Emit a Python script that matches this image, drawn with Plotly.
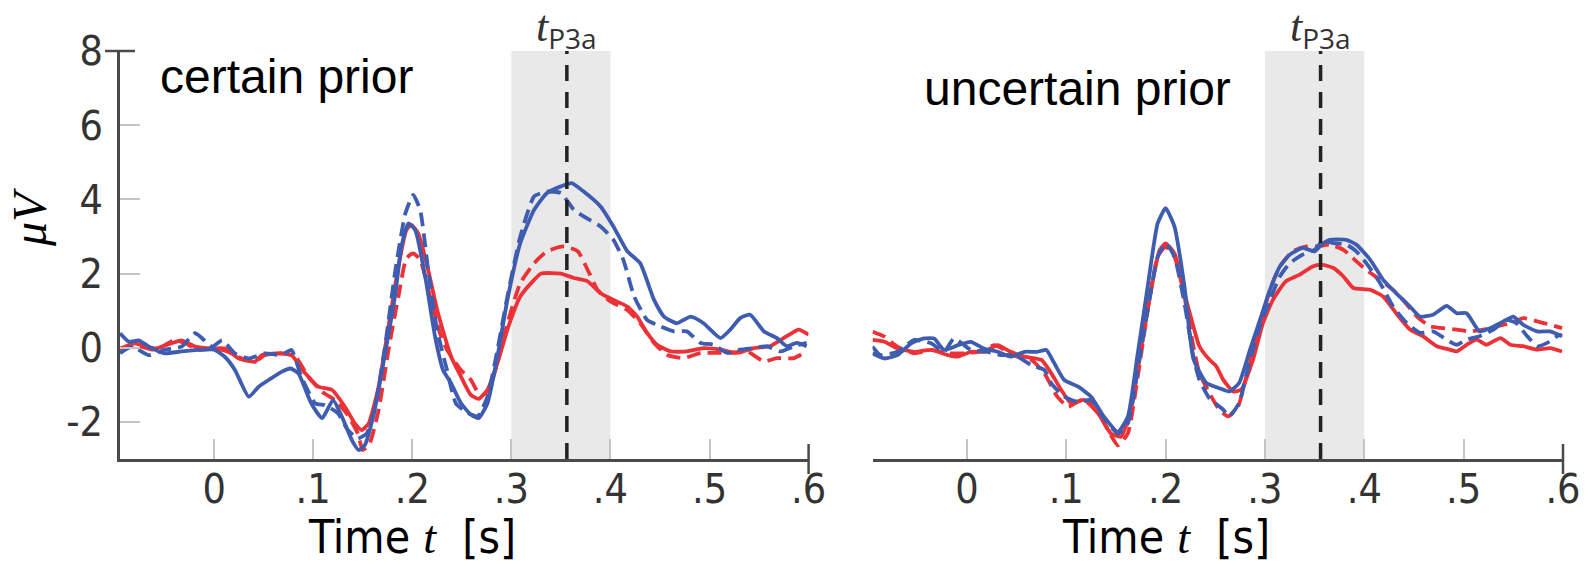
import plotly.graph_objects as go

# ---------------- data (t in s, amplitude in microvolts) ----------------
cert_blue_solid = [(-0.095,0.39),(-0.086,0.16),(-0.076,0.2),(-0.066,0.03),(-0.05,-0.15),(-0.033,-0.1),(-0.016,-0.06),(0.0,-0.05),(0.011,-0.25),(0.021,-0.6),(0.035,-1.32),(0.045,-1.05),(0.055,-0.87),(0.068,-0.65),(0.077,-0.56),(0.085,-0.69),(0.098,-1.5),(0.109,-1.9),(0.12,-1.41),(0.129,-1.86),(0.139,-2.49),(0.146,-2.76),(0.152,-2.63),(0.162,-1.68),(0.172,-0.24),(0.183,1.47),(0.189,2.72),(0.196,3.35),(0.203,3.17),(0.213,1.92),(0.223,0.3),(0.231,-0.6),(0.239,-0.95),(0.249,-1.49),(0.259,-1.8),(0.267,-1.9),(0.276,-1.49),(0.286,-0.23),(0.296,1.29),(0.309,2.82),(0.323,3.72),(0.336,4.17),(0.35,4.35),(0.361,4.44),(0.373,4.21),(0.39,3.81),(0.403,3.27),(0.417,2.6),(0.43,2.28),(0.444,1.29),(0.454,0.84),(0.467,0.66),(0.481,0.84),(0.494,0.66),(0.511,0.26),(0.521,0.49),(0.531,0.8),(0.541,0.89),(0.555,0.44),(0.568,0.26),(0.578,0.04),(0.588,0.13),(0.598,0.04)]
cert_blue_dash = [(-0.095,-0.15),(-0.083,0.03),(-0.066,-0.2),(-0.05,-0.06),(-0.033,0.03),(-0.019,0.39),(-0.002,0.03),(0.008,0.2),(0.021,-0.15),(0.035,-0.29),(0.051,-0.15),(0.068,-0.2),(0.078,-0.06),(0.088,-0.78),(0.102,-1.5),(0.112,-1.55),(0.125,-1.77),(0.135,-2.22),(0.145,-2.45),(0.154,-2.31),(0.162,-1.68),(0.172,-0.06),(0.183,2.1),(0.193,3.62),(0.201,4.12),(0.208,3.71),(0.216,2.1),(0.225,0.48),(0.235,-0.6),(0.244,-1.5),(0.256,-1.76),(0.266,-1.85),(0.276,-1.31),(0.286,-0.05),(0.296,1.38),(0.309,3.0),(0.323,4.08),(0.336,4.21),(0.35,4.17),(0.363,3.72),(0.373,3.54),(0.39,3.27),(0.403,2.91),(0.413,2.37),(0.424,1.38),(0.437,0.75),(0.45,0.58),(0.464,0.44),(0.477,0.44),(0.491,0.13),(0.504,0.08),(0.518,-0.14),(0.531,-0.05),(0.545,-0.01),(0.558,0.04),(0.572,-0.1),(0.585,0.04),(0.598,0.13)]
cert_red_solid = [(-0.095,-0.02),(-0.08,0.12),(-0.06,-0.02),(-0.043,0.12),(-0.033,0.2),(-0.019,0.03),(-0.002,-0.02),(0.011,-0.02),(0.025,-0.29),(0.041,-0.38),(0.048,-0.2),(0.062,-0.15),(0.078,-0.2),(0.092,-0.69),(0.105,-1.05),(0.119,-1.14),(0.132,-1.59),(0.142,-2.04),(0.149,-2.22),(0.156,-2.04),(0.166,-1.05),(0.176,0.57),(0.186,2.19),(0.194,3.17),(0.199,3.31),(0.206,3.08),(0.216,2.1),(0.226,0.93),(0.239,-0.23),(0.249,-0.77),(0.259,-1.27),(0.267,-1.38),(0.276,-1.13),(0.286,-0.41),(0.296,0.49),(0.309,1.38),(0.323,1.83),(0.33,2.0),(0.35,2.0),(0.363,1.88),(0.377,1.79),(0.39,1.47),(0.403,1.29),(0.417,1.11),(0.427,0.84),(0.437,0.4),(0.447,0.08),(0.461,-0.1),(0.477,-0.1),(0.494,-0.01),(0.511,-0.05),(0.528,-0.14),(0.545,-0.01),(0.561,0.04),(0.578,0.31),(0.59,0.49),(0.6,0.35)]
cert_red_dash = [(-0.095,-0.06),(-0.08,0.07),(-0.06,-0.06),(-0.04,0.2),(-0.029,0.12),(-0.016,-0.06),(0.001,-0.02),(0.014,-0.11),(0.028,-0.29),(0.041,-0.38),(0.051,-0.2),(0.068,-0.15),(0.082,-0.24),(0.095,-0.78),(0.109,-1.19),(0.122,-1.41),(0.135,-1.82),(0.145,-2.31),(0.15,-2.76),(0.157,-2.58),(0.166,-1.68),(0.176,-0.06),(0.186,1.38),(0.194,2.41),(0.201,2.54),(0.208,2.37),(0.218,1.38),(0.228,0.39),(0.235,-0.05),(0.249,-0.6),(0.259,-0.86),(0.269,-1.31),(0.277,-1.13),(0.286,-0.41),(0.296,0.66),(0.309,1.74),(0.323,2.28),(0.336,2.6),(0.353,2.73),(0.367,2.6),(0.377,2.1),(0.387,1.56),(0.4,1.25),(0.417,1.02),(0.43,0.66),(0.444,0.13),(0.457,-0.19),(0.474,-0.28),(0.491,-0.14),(0.504,-0.14),(0.521,-0.14),(0.538,-0.1),(0.555,-0.37),(0.568,-0.28),(0.585,-0.28),(0.598,-0.1)]

unc_blue_solid = [(-0.095,-0.15),(-0.083,-0.29),(-0.07,-0.2),(-0.056,0.12),(-0.043,0.25),(-0.033,0.25),(-0.023,-0.06),(-0.009,0.07),(0.004,0.16),(0.017,-0.02),(0.031,-0.11),(0.044,-0.24),(0.058,-0.11),(0.071,-0.11),(0.08,-0.06),(0.088,-0.42),(0.098,-0.87),(0.112,-1.05),(0.125,-1.32),(0.138,-1.86),(0.152,-2.27),(0.162,-1.86),(0.172,-0.15),(0.182,1.65),(0.192,3.35),(0.2,3.76),(0.209,3.26),(0.219,1.65),(0.228,-0.3),(0.241,-0.95),(0.254,-1.09),(0.264,-1.18),(0.274,-0.95),(0.285,-0.05),(0.295,0.75),(0.305,1.56),(0.315,2.19),(0.325,2.51),(0.338,2.69),(0.35,2.6),(0.357,2.78),(0.365,2.91),(0.382,2.91),(0.392,2.78),(0.406,2.37),(0.419,1.83),(0.432,1.47),(0.446,1.11),(0.456,0.84),(0.469,0.89),(0.483,1.13),(0.493,0.93),(0.503,0.93),(0.516,0.44),(0.527,0.53),(0.54,0.71),(0.55,0.84),(0.56,0.62),(0.574,0.44),(0.587,0.44),(0.599,0.31)]
unc_blue_dash = [(-0.095,0.03),(-0.087,-0.2),(-0.07,-0.11),(-0.053,0.21),(-0.036,0.12),(-0.023,-0.11),(-0.013,0.25),(0.004,-0.06),(0.021,-0.11),(0.034,-0.2),(0.048,-0.2),(0.065,-0.47),(0.078,-0.6),(0.085,-0.96),(0.098,-1.32),(0.112,-1.46),(0.125,-1.41),(0.138,-1.91),(0.152,-2.31),(0.162,-2.04),(0.172,-0.6),(0.182,1.02),(0.192,2.45),(0.2,2.81),(0.209,2.45),(0.219,1.2),(0.228,-0.24),(0.234,-0.86),(0.244,-1.36),(0.258,-1.67),(0.264,-1.85),(0.274,-1.49),(0.285,-0.32),(0.295,0.58),(0.305,1.29),(0.315,1.92),(0.325,2.28),(0.338,2.51),(0.35,2.64),(0.358,2.87),(0.369,2.82),(0.382,2.78),(0.392,2.6),(0.402,2.28),(0.416,1.74),(0.429,1.11),(0.443,0.66),(0.456,0.4),(0.469,0.44),(0.483,0.22),(0.493,0.08),(0.503,0.22),(0.516,0.31),(0.53,0.49),(0.543,0.75),(0.553,0.66),(0.564,0.31),(0.574,0.04),(0.584,0.13),(0.594,0.31),(0.599,0.35)]
unc_red_solid = [(-0.095,0.21),(-0.083,0.16),(-0.07,-0.02),(-0.053,-0.11),(-0.036,-0.06),(-0.019,-0.2),(-0.009,-0.24),(0.004,-0.11),(0.017,-0.11),(0.031,0.07),(0.044,-0.11),(0.058,-0.24),(0.075,-0.33),(0.085,-0.69),(0.095,-1.14),(0.105,-1.5),(0.118,-1.41),(0.132,-1.77),(0.145,-2.31),(0.155,-2.4),(0.165,-1.68),(0.175,-0.06),(0.186,1.65),(0.194,2.63),(0.2,2.81),(0.209,2.54),(0.219,1.47),(0.228,0.57),(0.234,0.04),(0.244,-0.32),(0.251,-0.5),(0.258,-0.86),(0.268,-1.18),(0.276,-1.13),(0.288,-0.32),(0.298,0.66),(0.308,1.29),(0.321,1.79),(0.335,1.97),(0.348,2.19),(0.357,2.24),(0.369,2.15),(0.379,1.92),(0.389,1.61),(0.406,1.56),(0.419,1.38),(0.432,0.93),(0.446,0.49),(0.459,0.31),(0.473,0.04),(0.486,-0.05),(0.493,-0.1),(0.503,0.08),(0.513,0.22),(0.523,0.08),(0.537,0.26),(0.547,0.08),(0.56,0.04),(0.574,-0.05),(0.587,-0.01),(0.599,-0.1)]
unc_red_dash = [(-0.095,0.43),(-0.083,0.3),(-0.07,0.03),(-0.053,-0.15),(-0.036,-0.06),(-0.019,-0.15),(-0.003,-0.15),(0.011,-0.11),(0.028,0.07),(0.038,-0.06),(0.051,-0.24),(0.065,-0.33),(0.078,-0.69),(0.091,-1.32),(0.102,-1.59),(0.115,-1.41),(0.128,-1.5),(0.142,-2.22),(0.152,-2.63),(0.162,-2.31),(0.172,-0.78),(0.182,1.02),(0.192,2.45),(0.2,2.72),(0.209,2.45),(0.219,1.38),(0.228,0.03),(0.234,-0.68),(0.244,-1.22),(0.254,-1.67),(0.263,-1.85),(0.273,-1.58),(0.283,-0.59),(0.295,0.58),(0.305,1.56),(0.315,2.19),(0.328,2.6),(0.342,2.73),(0.352,2.73),(0.365,2.78),(0.379,2.64),(0.392,2.33),(0.402,2.1),(0.416,1.83),(0.429,1.56),(0.439,1.29),(0.453,0.84),(0.466,0.58),(0.479,0.53),(0.493,0.49),(0.506,0.44),(0.52,0.49),(0.533,0.58),(0.547,0.66),(0.56,0.8),(0.574,0.71),(0.587,0.62),(0.599,0.53)]

x_ticks = [0, 0.1, 0.2, 0.3, 0.4, 0.5, 0.6]
x_ticktext = ["0", ".1", ".2", ".3", ".4", ".5", ".6"]
y_ticks = [-2, 0, 2, 4, 6, 8]
y_ticktext = ["-2", "0", "2", "4", "6", "8"]
x_range = [-0.095, 0.6]
y_range = [-3, 8]
window = (0.3, 0.4)
t_p3a = 0.356
panel_titles = ["certain prior", "uncertain prior"]

BLUE = "#3f5db0"
RED = "#ec3237"
TICKFONT = "DejaVu Sans Condensed, DejaVu Sans, sans-serif"

def cond(s):
    return '<span style="font-stretch:condensed">' + s + '</span>'

fig = go.Figure()

def add_series(data, color, dash, xa, ya):
    t = [p[0] for p in data]
    v = [p[1] for p in data]
    fig.add_trace(go.Scatter(x=t, y=v, mode="lines", xaxis=xa, yaxis=ya,
                             line=dict(color=color, width=3.8, dash=dash, shape="spline", smoothing=0.5),
                             showlegend=False, hoverinfo="skip"))

for xa, ya, series in [("x", "y", [cert_red_solid, cert_red_dash, cert_blue_dash, cert_blue_solid]),
                       ("x2", "y2", [unc_red_solid, unc_red_dash, unc_blue_dash, unc_blue_solid])]:
    rs, rd, bd, bs = series
    add_series(rs, RED, "solid", xa, ya)
    add_series(rd, RED, "14px,7px", xa, ya)
    add_series(bd, BLUE, "14px,7px", xa, ya)
    add_series(bs, BLUE, "solid", xa, ya)

W, H = 1595, 570
xdom1 = [120 / W, 808.6 / W]
xdom2 = [872.5 / W, 1563 / W]
ydom = [1 - 459 / H, 1 - 51 / H]

tickfont = dict(family=TICKFONT, size=41, color="#333333")
axis_common = dict(range=x_range, tickvals=x_ticks, ticktext=[cond(s) for s in x_ticktext], ticks="inside",
                   ticklen=20, tickwidth=1.5, tickcolor="#c4c4c4", showline=True, linecolor="#4a4a4a",
                   linewidth=2.5, showgrid=False, zeroline=False, tickfont=tickfont, automargin=False,
                   ticklabelstandoff=-8, fixedrange=True)
fig.update_layout(
    width=W, height=H, autosize=False, margin=dict(l=0, r=0, t=0, b=0, pad=0),
    paper_bgcolor="white", plot_bgcolor="white",
    xaxis=dict(domain=xdom1, anchor="y", **axis_common),
    xaxis2=dict(domain=xdom2, anchor="y2", **axis_common),
    yaxis=dict(domain=ydom, anchor="x", range=y_range, tickvals=y_ticks,
               ticktext=[cond(s) for s in y_ticktext], automargin=False,
               ticks="inside", ticklen=20, tickwidth=1.5, tickcolor="#c4c4c4", showline=True,
               linecolor="#4a4a4a", linewidth=2.5, showgrid=False, zeroline=False,
               tickfont=tickfont, ticklabelstandoff=6, fixedrange=True),
    yaxis2=dict(domain=ydom, anchor="x2", range=y_range, visible=False, automargin=False, fixedrange=True),
)

for xr, yr in [("x", "y"), ("x2", "y2")]:
    fig.add_shape(type="rect", xref=xr, yref=yr, x0=window[0], x1=window[1], y0=y_range[0], y1=y_range[1],
                  fillcolor="#e9e9e9", line=dict(width=0), layer="below")
    fig.add_shape(type="line", xref=xr, yref=yr, x0=t_p3a, x1=t_p3a, y0=y_range[0], y1=y_range[1],
                  line=dict(color="#222222", width=3.5, dash="16px,11px"), layer="above")
    fig.add_annotation(xref=xr, yref="paper", x=t_p3a, y=1 - 29 / H, showarrow=False,
                       text='<span style="font-family:Liberation Serif;font-size:44px"><i>t</i></span><sub>P3a</sub>',
                       font=dict(family="Open Sans, Liberation Sans, sans-serif", size=40, color="#333333"),
                       xanchor="center", yanchor="middle", borderpad=0)

# axis end caps
cap = 15
for xd in (xdom1, xdom2):
    fig.add_shape(type="line", xref="paper", yref="paper", x0=xd[1], x1=xd[1],
                  y0=ydom[0] - cap / H, y1=ydom[0] + cap / H, line=dict(color="#4a4a4a", width=2.5))
fig.add_shape(type="line", xref="paper", yref="paper", x0=xdom1[0] - cap / W, x1=xdom1[0] + cap / W,
              y0=ydom[1], y1=ydom[1], line=dict(color="#4a4a4a", width=2.5))

# panel titles
fig.add_annotation(xref="paper", yref="paper", x=158 / W, y=1 - 77 / H, text=panel_titles[0], showarrow=False,
                   xanchor="left", yanchor="middle", font=dict(family="Liberation Sans, Arial, sans-serif", size=48, color="black"))
fig.add_annotation(xref="paper", yref="paper", x=922 / W, y=1 - 88 / H, text=panel_titles[1], showarrow=False,
                   xanchor="left", yanchor="middle", font=dict(family="Liberation Sans, Arial, sans-serif", size=48, color="black"))

# axis titles
for xr in ("x", "x2"):
    fig.add_annotation(xref=xr, yref="paper", x=0.2, y=1 - 537 / H, showarrow=False,
                       text=cond('Time <span style="font-family:Liberation Serif"><i>t</i></span>  [s]'),
                       font=dict(family=TICKFONT, size=46, color="black"), xanchor="center", yanchor="middle")
fig.add_annotation(xref="paper", yref="paper", x=29 / W, y=1 - 218 / H, showarrow=False, textangle=-90,
                   text='<i>\u03bcV</i>', font=dict(family="Liberation Serif, serif", size=48, color="black"),
                   xanchor="center", yanchor="middle")

fig.write_html("out.html", post_script="document.body.style.margin='0';document.documentElement.style.overflow='hidden';")
